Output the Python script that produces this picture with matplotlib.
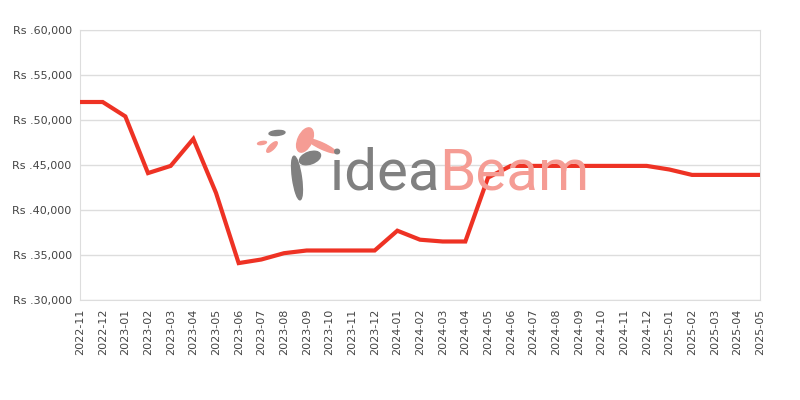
import matplotlib
matplotlib.use("Agg")
import matplotlib.pyplot as plt
from matplotlib.patches import Ellipse

# monthly prices
months = ["2022-11", "2022-12", "2023-01", "2023-02", "2023-03", "2023-04",
          "2023-05", "2023-06", "2023-07", "2023-08", "2023-09", "2023-10",
          "2023-11", "2023-12", "2024-01", "2024-02", "2024-03", "2024-04",
          "2024-05", "2024-06", "2024-07", "2024-08", "2024-09", "2024-10",
          "2024-11", "2024-12", "2025-01", "2025-02", "2025-03", "2025-04",
          "2025-05"]
prices = [52000, 52000, 50400, 44100, 44900, 47900,
          41900, 34100, 34500, 35200, 35500, 35500,
          35500, 35500, 37700, 36700, 36500, 36500,
          43600, 44900, 44900, 44900, 44900, 44900,
          44900, 44900, 44500, 43900, 43900, 43900,
          43900]
y_ticks = [30000, 35000, 40000, 45000, 50000, 55000, 60000]

fig = plt.figure(figsize=(8, 4), dpi=100)
ax = fig.add_axes([0.1, 0.25, 0.85, 0.675])

# watermark (logo text + rough bird shapes), behind the chart
wm_font = ["Roboto", "DejaVu Sans"]
fig.text(0.413, 0.5275, "idea", color="#808080", fontsize=42, family=wm_font,
         ha="left", va="baseline", zorder=0)
fig.text(0.549, 0.5275, "Beam", color="#f59c94", fontsize=42, family=wm_font,
         ha="left", va="baseline", zorder=0)
# (x, y from top, w, h, angle, colour) in pixels
leaves = [(297, 178, 9, 44, 8, "#808080"),
          (310, 158, 22, 12, 20, "#808080"),
          (305, 140, 14, 26, -25, "#f59c94"),
          (322, 146, 30, 6, -25, "#f59c94"),
          (277, 133, 16, 5, 5, "#808080"),
          (272, 147, 5, 14, -45, "#f59c94"),
          (262, 143, 9, 3, 10, "#f59c94")]
for lx, ly, lw, lh, ang, col in leaves:
    fig.patches.append(Ellipse((lx, 400 - ly), lw, lh, angle=ang, color=col,
                               transform=None, zorder=0))

x = list(range(len(months)))
ax.plot(x, prices, color="#ee3224", linewidth=3, solid_joinstyle="miter", zorder=3)

ax.set_xlim(0, len(months) - 1)
ax.set_ylim(30000, 60000)
ax.set_yticks(y_ticks)
ax.set_yticklabels(["Rs .{:,}".format(v) for v in y_ticks])
ax.set_xticks(x)
ax.set_xticklabels(months, rotation=90)
ax.tick_params(length=0, labelsize=8, labelcolor="#444444", pad=6)
ax.grid(axis="y", color="#dddddd", linewidth=1)
ax.set_axisbelow(True)
for s in ax.spines.values():
    s.set_color("#dddddd")
ax.patch.set_alpha(0)

fig.savefig("out.png")
